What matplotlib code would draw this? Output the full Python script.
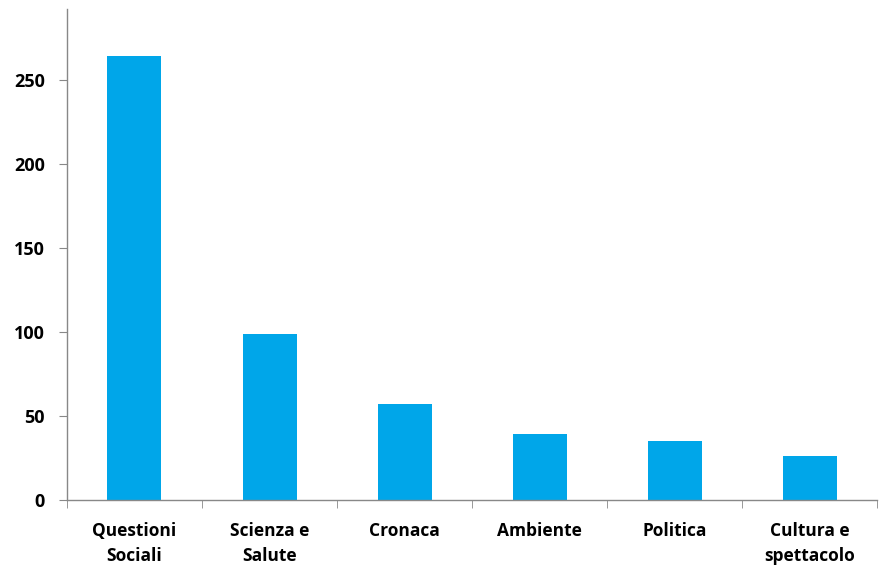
import matplotlib
matplotlib.use("Agg")
import matplotlib.pyplot as plt
import numpy as np

categories = ["Questioni\nSociali", "Scienza e\nSalute", "Cronaca", "Ambiente", "Politica", "Cultura e\nspettacolo"]
values = [264, 99, 57, 39, 35, 26]
y_ticks = [0, 50, 100, 150, 200, 250]

plt.rcParams['font.family'] = ['Open Sans', 'DejaVu Sans']


def main():
    fig = plt.figure(figsize=(8.85, 5.68), dpi=100)
    ax = fig.add_axes([0.0757, 0.1197, 0.9153, 0.8645])
    x = np.arange(len(categories))
    ax.bar(x, values, width=0.4, color="#00A6E9")

    ax.set_xlim(-0.5, len(categories) - 0.5)
    ax.set_ylim(0, 292)
    ax.set_yticks(y_ticks)
    ax.set_yticklabels([str(t) for t in y_ticks], fontsize=13, fontweight="bold")
    ax.set_xticks(x)
    ax.set_xticklabels(categories, fontsize=12.5, fontweight="bold", linespacing=1.5)
    ax.set_xticks(np.arange(len(categories) + 1) - 0.5, minor=True)

    ax.tick_params(axis="x", which="major", length=0, pad=16)
    ax.tick_params(axis="x", which="minor", length=6, color="#888888", direction="out")
    ax.tick_params(axis="y", length=6, color="#888888", pad=10)

    for s in ["top", "right"]:
        ax.spines[s].set_visible(False)
    for s in ["left", "bottom"]:
        ax.spines[s].set_color("#888888")
        ax.spines[s].set_linewidth(1)

    fig.savefig("out.png", dpi=100)


if __name__ == "__main__":
    main()
